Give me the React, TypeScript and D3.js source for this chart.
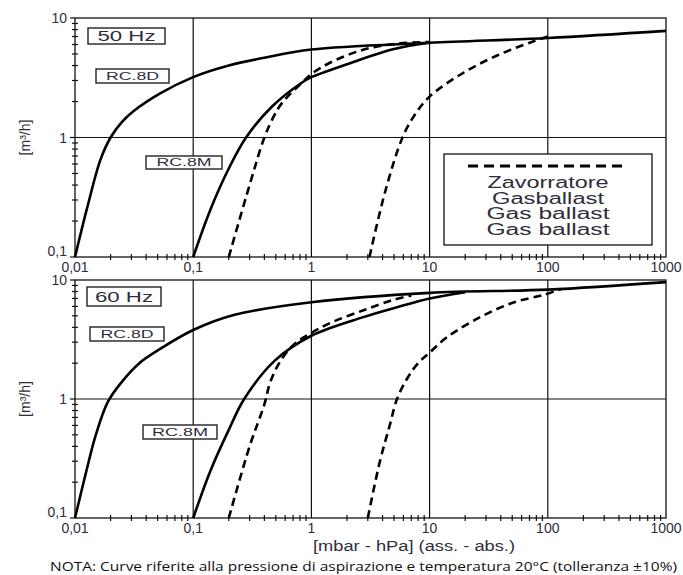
import React, { useEffect, useRef } from 'react';
import * as d3 from 'd3';

// Axis ticks
const pressureTicks = [0.01, 0.1, 1, 10, 100, 1000];
const pressureTickLabels = ['0,01', '0,1', '1', '10', '100', '1000'];
const flowTicks = [0.1, 1, 10];
const flowTickLabels = ['0,1', '1', '10'];

// 50 Hz curves (pressure mbar, flow m3/h)
const rc8d50P = [0.01, 0.0127, 0.0164, 0.02, 0.025, 0.031, 0.053, 0.1, 0.2, 0.4, 1, 10, 100, 1000];
const rc8d50Q = [0.1, 0.26, 0.65, 1.0, 1.35, 1.65, 2.35, 3.2, 4.0, 4.65, 5.45, 6.2, 6.8, 7.8];
const rc8m50P = [0.1, 0.14, 0.2, 0.28, 0.46, 0.84, 1, 2, 5, 10];
const rc8m50Q = [0.1, 0.25, 0.55, 1.0, 1.8, 2.9, 3.2, 4.1, 5.5, 6.2];
const gb8m50P = [0.2, 0.3, 0.4, 0.48, 0.565, 0.84, 1, 1.42, 2.7, 5.3, 10];
const gb8m50Q = [0.1, 0.4, 1.0, 1.5, 1.95, 2.9, 3.4, 4.2, 5.4, 6.1, 6.3];
const gb8d50P = [3.1, 4.2, 5.9, 7.5, 10, 19.5, 38, 73, 100];
const gb8d50Q = [0.1, 0.35, 1.0, 1.55, 2.2, 3.5, 4.9, 6.3, 7.0];

// 60 Hz curves
const rc8d60P = [0.01, 0.0125, 0.015, 0.019, 0.025, 0.035, 0.053, 0.1, 0.224, 1, 10, 100, 1000];
const rc8d60Q = [0.1, 0.25, 0.5, 0.95, 1.4, 2.0, 2.65, 3.8, 5.1, 6.5, 7.8, 8.3, 9.6];
const rc8m60P = [0.1, 0.14, 0.2, 0.27, 0.49, 1, 2.8, 5.3, 10, 20];
const rc8m60Q = [0.1, 0.25, 0.55, 1.0, 2.1, 3.4, 4.9, 5.9, 7.0, 7.9];
const gb8m60P = [0.2, 0.3, 0.4, 0.45, 0.55, 0.72, 1, 1.48, 2.8, 4.9, 7];
const gb8m60Q = [0.1, 0.4, 0.9, 1.4, 2.1, 2.9, 3.6, 4.4, 5.6, 6.8, 7.4];
const gb8d60P = [3.0, 3.8, 4.6, 5.3, 6.5, 8, 10, 14, 27, 52, 92, 130];
const gb8d60Q = [0.1, 0.3, 0.6, 1.0, 1.5, 2.0, 2.45, 3.3, 4.9, 6.5, 7.5, 8.4];

const legendLines = ['Zavorratore', 'Gasballast', 'Gas ballast', 'Gas ballast'];
const legendWidths = [121, 112, 123, 123];
const noteText =
  'NOTA:  Curve riferite alla pressione di aspirazione e temperatura 20°C (tolleranza ±10%)';

const FONT = '"Liberation Sans", Arial, sans-serif';
const INK = '#2e2e3a';

const zip = (p: number[], q: number[]) => p.map((v, i) => [v, q[i]] as [number, number]);

const minorValues = (lo: number, hi: number) => {
  const out: number[] = [];
  for (let d = lo; d < hi * 0.99; d *= 10) {
    for (let k = 2; k <= 9; k++) out.push(d * k);
  }
  return out;
};

type Box = [number, number, number, number, number]; // x, y, w, h, text width

type Panel = {
  top: number;
  bottom: number;
  freq: string;
  curves: { p: number[]; q: number[]; dashed: boolean }[];
  freqBox: Box;
  box8D: Box;
  box8M: Box;
  legend: boolean;
  xTitle: boolean;
};

const panels: Panel[] = [
  {
    top: 18,
    bottom: 257,
    freq: '50 Hz',
    curves: [
      { p: rc8d50P, q: rc8d50Q, dashed: false },
      { p: rc8m50P, q: rc8m50Q, dashed: false },
      { p: gb8m50P, q: gb8m50Q, dashed: true },
      { p: gb8d50P, q: gb8d50Q, dashed: true },
    ],
    freqBox: [88, 28, 77, 16, 58],
    box8D: [96, 69, 73, 14, 53],
    box8M: [146, 156, 76, 13, 55],
    legend: true,
    xTitle: false,
  },
  {
    top: 280,
    bottom: 518,
    freq: '60 Hz',
    curves: [
      { p: rc8d60P, q: rc8d60Q, dashed: false },
      { p: rc8m60P, q: rc8m60Q, dashed: false },
      { p: gb8m60P, q: gb8m60Q, dashed: true },
      { p: gb8d60P, q: gb8d60Q, dashed: true },
    ],
    freqBox: [87, 287, 74, 19, 58],
    box8D: [90, 327, 74, 14, 53],
    box8M: [143, 425, 74, 14, 56],
    legend: false,
    xTitle: true,
  },
];

const left = 75;
const right = 666;

function drawPanel(svg: d3.Selection<SVGSVGElement, unknown, null, undefined>, cfg: Panel) {
  const x = d3.scaleLog().domain([0.01, 1000]).range([left, right]);
  const y = d3.scaleLog().domain([0.1, 10]).range([cfg.bottom, cfg.top]);
  const g = svg.append('g');

  // grid
  g.selectAll('line.vgrid')
    .data(pressureTicks.slice(1, -1))
    .enter()
    .append('line')
    .attr('x1', (d) => x(d))
    .attr('x2', (d) => x(d))
    .attr('y1', cfg.top)
    .attr('y2', cfg.bottom)
    .attr('stroke', '#111')
    .attr('stroke-width', 1.2);
  g.append('line')
    .attr('x1', left)
    .attr('x2', right)
    .attr('y1', y(1))
    .attr('y2', y(1))
    .attr('stroke', '#111')
    .attr('stroke-width', 1.2);

  // frame
  g.append('rect')
    .attr('x', left)
    .attr('y', cfg.top)
    .attr('width', right - left)
    .attr('height', cfg.bottom - cfg.top)
    .attr('fill', 'none')
    .attr('stroke', '#111')
    .attr('stroke-width', 1.3);

  // minor ticks
  g.selectAll('line.xminor')
    .data(minorValues(0.01, 1000))
    .enter()
    .append('line')
    .attr('x1', (d) => x(d))
    .attr('x2', (d) => x(d))
    .attr('y1', cfg.bottom - 3)
    .attr('y2', cfg.bottom + 3)
    .attr('stroke', '#111')
    .attr('stroke-width', 1.2);
  g.selectAll('line.yminor')
    .data(minorValues(0.1, 10))
    .enter()
    .append('line')
    .attr('x1', left - 3)
    .attr('x2', left + 3)
    .attr('y1', (d) => y(d))
    .attr('y2', (d) => y(d))
    .attr('stroke', '#111')
    .attr('stroke-width', 1.2);
  g.selectAll('line.ymajor')
    .data(flowTicks)
    .enter()
    .append('line')
    .attr('x1', left - 5)
    .attr('x2', left)
    .attr('y1', (d) => y(d))
    .attr('y2', (d) => y(d))
    .attr('stroke', '#111')
    .attr('stroke-width', 1.2);

  // tick labels
  g.selectAll('text.xlab')
    .data(pressureTicks)
    .enter()
    .append('text')
    .attr('x', (d) => x(d))
    .attr('y', cfg.bottom + 15)
    .attr('text-anchor', 'middle')
    .style('font-family', FONT)
    .style('font-size', '14px')
    .attr('fill', INK)
    .text((d, i) => pressureTickLabels[i]);
  g.selectAll('text.ylab')
    .data(flowTicks)
    .enter()
    .append('text')
    .attr('x', left - 8)
    .attr('y', (d) => (d === 0.1 ? y(d) - 1 : y(d) + 5))
    .attr('text-anchor', 'end')
    .style('font-family', FONT)
    .style('font-size', '14px')
    .attr('fill', INK)
    .text((d, i) => flowTickLabels[i]);

  // y title
  const ym = (cfg.top + cfg.bottom) / 2;
  g.append('text')
    .attr('transform', `translate(30,${ym}) rotate(-90)`)
    .attr('text-anchor', 'middle')
    .style('font-family', FONT)
    .style('font-size', '14px')
    .attr('fill', INK)
    .text('[m³/h]');

  // curves
  const line = d3
    .line<[number, number]>()
    .x((d) => x(d[0]))
    .y((d) => y(d[1]))
    .curve(d3.curveCatmullRom.alpha(0.5));
  cfg.curves.forEach((c) => {
    g.append('path')
      .attr('d', line(zip(c.p, c.q)) || '')
      .attr('fill', 'none')
      .attr('stroke', '#000')
      .attr('stroke-width', 2.6)
      .attr('stroke-dasharray', c.dashed ? '8,5' : null);
  });

  // labels
  const box = (b: Box, txt: string, size: number) => {
    const [bx, by, w, h, tw] = b;
    g.append('rect')
      .attr('x', bx)
      .attr('y', by)
      .attr('width', w)
      .attr('height', h)
      .attr('fill', '#fff')
      .attr('stroke', '#222')
      .attr('stroke-width', 1.4);
    g.append('text')
      .attr('x', bx + w / 2)
      .attr('y', by + h / 2 + size * 0.36)
      .attr('text-anchor', 'middle')
      .attr('textLength', tw)
      .attr('lengthAdjust', 'spacingAndGlyphs')
      .style('font-family', FONT)
      .style('font-size', `${size}px`)
      .attr('fill', INK)
      .text(txt);
  };
  box(cfg.freqBox, cfg.freq, 15);
  box(cfg.box8D, 'RC.8D', 10);
  box(cfg.box8M, 'RC.8M', 10);

  if (cfg.legend) {
    g.append('rect')
      .attr('x', 444)
      .attr('y', 154)
      .attr('width', 208)
      .attr('height', 91)
      .attr('fill', '#fff')
      .attr('stroke', '#111')
      .attr('stroke-width', 1.3);
    g.append('line')
      .attr('x1', 468)
      .attr('x2', 628)
      .attr('y1', 166)
      .attr('y2', 166)
      .attr('stroke', '#000')
      .attr('stroke-width', 3)
      .attr('stroke-dasharray', '10,6');
    g.selectAll('text.leg')
      .data(legendLines)
      .enter()
      .append('text')
      .attr('x', 548)
      .attr('y', (d, i) => 188 + i * 15.5)
      .attr('text-anchor', 'middle')
      .attr('textLength', (d, i) => legendWidths[i])
      .attr('lengthAdjust', 'spacingAndGlyphs')
      .style('font-family', FONT)
      .style('font-size', '16px')
      .attr('fill', INK)
      .text((d) => d);
  }

  if (cfg.xTitle) {
    g.append('text')
      .attr('x', 414)
      .attr('y', cfg.bottom + 33)
      .attr('text-anchor', 'middle')
      .attr('textLength', 202)
      .attr('lengthAdjust', 'spacingAndGlyphs')
      .style('font-family', FONT)
      .style('font-size', '14px')
      .attr('fill', INK)
      .text('[mbar - hPa] (ass. - abs.)');
  }
}

export default function App() {
  const ref = useRef<SVGSVGElement>(null);

  useEffect(() => {
    const svg = d3.select(ref.current as SVGSVGElement);
    svg.selectAll('*').remove();
    svg.append('rect').attr('width', 683).attr('height', 575).attr('fill', '#fff');
    panels.forEach((p) => drawPanel(svg, p));

    // note
    svg
      .append('text')
      .attr('x', 50)
      .attr('y', 571)
      .attr('textLength', 627)
      .attr('lengthAdjust', 'spacingAndGlyphs')
      .style('font-family', '"Open Sans", sans-serif')
      .style('font-size', '13px')
      .attr('fill', '#111')
      .text(noteText);
  }, []);

  return (
    <svg
      ref={ref}
      width={683}
      height={575}
      style={{ position: 'absolute', left: 0, top: 0, display: 'block' }}
    />
  );
}
